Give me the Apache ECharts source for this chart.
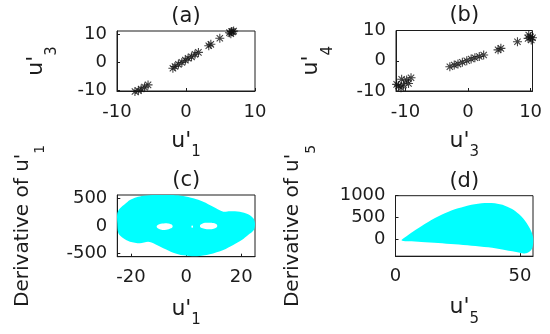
<!DOCTYPE html>
<html>
<head>
<meta charset="utf-8">
<script src="https://cdn.jsdelivr.net/npm/echarts@6/dist/echarts.min.js"></script>
<style>
html,body{margin:0;padding:0;background:#fff;}
#chart{width:550px;height:334px;}
</style>
</head>
<body>
<div id="chart"></div>
<script>
// ---------- Panel (a): u'1 (x) vs u'3 (y) ----------
const aX = [6.9, 6.6, 6.3, 6.8, 6.5, 4.9, 3.3, 3.6, 1.8, 1.3, 0.8, 0.3, -0.1, -0.6, -1.1, -1.6, -1.9, -5.5, -6.0, -6.5, -6.9, -7.4];
const aY = [11.2, 11.0, 10.6, 10.9, 10.2, 8.6, 5.9, 6.4, 3.5, 2.8, 1.9, 1.4, 0.7, -0.1, -0.8, -1.6, -2.2, -8.2, -9.0, -9.7, -10.3, -10.6];
// ---------- Panel (b): u'3 (x) vs u'4 (y) ----------
const bX = [10.0, 10.3, 9.6, 10.1, 9.7, 7.9, 5.25, 4.8, 2.5, 1.8, 1.1, 0.5, -0.2, -0.9, -1.6, -2.2, -2.9, -9.1, -9.8, -10.6, -9.5, -10.3, -11.1, -10.7, -11.4];
const bY = [7.9, 7.6, 7.4, 6.9, 8.5, 6.3, 4.1, 3.6, 1.9, 1.4, 1.0, 0.6, 0.0, -0.5, -1.1, -1.4, -2.0, -5.6, -6.4, -6.1, -7.5, -8.0, -8.3, -8.9, -7.8];
// ---------- Panel (c): u'1 (x) vs derivative of u'1 (y), region outline and holes ----------
const cOuterX = [-25.0, -25.0, -24.0, -22.2, -20.4, -18.0, -15.6, -9.5, -4.7, -1.05, 2.6, 6.2, 9.8, 13.5, 15.9, 19.5, 22.5, 24.4, 25.0, 24.6, 22.5, 20.2, 17.1, 13.5, 8.6, 3.8, -1.05, -4.7, -8.3, -11.9, -13.8, -16.8, -20.4, -22.8, -24.6];
const cOuterY = [46, 228, 318, 397, 469, 518, 547, 562, 560, 542, 500, 438, 348, 257, 266, 257, 210, 137, 46, -75, -166, -257, -348, -438, -516, -552, -535, -487, -407, -317, -288, -317, -288, -226, -135];
const cHoleLX = [-10.7, -10.0, -8.2, -6.0, -4.9, -5.8, -7.8, -9.8];
const cHoleLY = [-15, 25, 44, 36, -5, -50, -74, -55];
const cHoleRX = [5.0, 5.8, 8.0, 10.3, 11.3, 10.5, 8.3, 6.0];
const cHoleRY = [-5, 40, 57, 45, 0, -45, -63, -45];
const cDotX = [1.9, 2.2, 2.5, 2.2];
const cDotY = [-15, 5, -15, -35];
// ---------- Panel (d): u'5 (x) vs derivative of u'5 (y), region outline ----------
const dOuterX = [2.4, 5.1, 9.1, 14.4, 19.8, 25.1, 30.5, 35.8, 39.9, 43.9, 47.9, 51.2, 53.9, 55.2, 55.2, 54.5, 52.5, 49.9, 43.9, 37.2, 30.5, 23.8, 17.1, 10.4, 5.1, 2.7];
const dOuterY = [-25, 90, 245, 437, 592, 708, 792, 831, 824, 769, 653, 477, 245, 51, -141, -257, -333, -319, -257, -194, -157, -125, -95, -72, -56, -42];
// ---------- Tick labels ----------
const aTicksX = [-10, 0, 10], aTicksY = [-10, 0, 10];
const bTicksX = [-10, 0, 10], bTicksY = [-10, 0, 10];
const cTicksX = [-20, 0, 20], cTicksY = [-500, 0, 500];
const dTicksX = [0, 50], dTicksY = [0, 500, 1000];
const titles = ['(a)', '(b)', '(c)', '(d)'];

const FONT = 'DejaVu Sans';
const INK = '#1c1c1c';
const CYAN = '#00ffff';
const ASTER = 'path://M-0.12,-1L0.12,-1L0.12,1L-0.12,1Z M-1,-0.12L1,-0.12L1,0.12L-1,0.12Z M-0.79,-0.62L-0.62,-0.79L0.79,0.62L0.62,0.79Z M-0.79,0.62L0.62,-0.79L0.79,-0.62L-0.62,0.79Z';

const grids = [
  {left: 117, top: 31, width: 138, height: 60},
  {left: 396, top: 30.5, width: 136.5, height: 60.5},
  {left: 117.3, top: 195, width: 137.7, height: 61.7},
  {left: 395.5, top: 195.7, width: 137.5, height: 60.5}
].map(g => Object.assign({show: true, borderColor: INK, borderWidth: 1, backgroundColor: 'transparent'}, g));

function nameStyle(main, sub, pad) {
  return {
    fontSize: main, fontFamily: FONT, color: INK,
    rich: {s: {fontSize: sub, fontFamily: FONT, color: INK, padding: [pad, 0, 0, 0]}}
  };
}
function baseAxis(gi, min, max, ticks, margin) {
  return {
    gridIndex: gi, type: 'value', min: min, max: max,
    axisLine: {show: true, onZero: false, lineStyle: {color: INK, width: 1}},
    axisTick: {show: true, inside: true, length: 3, customValues: ticks, lineStyle: {color: INK}},
    axisLabel: {customValues: ticks, margin: margin, fontSize: 18, fontFamily: FONT, color: INK,
                formatter: v => String(v)},
    splitLine: {show: false},
    nameLocation: 'middle'
  };
}
function xAx(gi, min, max, ticks, margin, name, gap) {
  return Object.assign(baseAxis(gi, min, max, ticks, margin), {
    position: 'bottom', name: name, nameGap: gap, nameTextStyle: nameStyle(22, 15, 22)
  });
}
function yAx(gi, min, max, ticks, name, gap, main, sub, pad) {
  return Object.assign(baseAxis(gi, min, max, ticks, 10), {
    position: 'left', name: name, nameGap: gap, nameTextStyle: nameStyle(main, sub, pad)
  });
}

function scatterSeries(i, xs, ys) {
  return {
    type: 'scatter', xAxisIndex: i, yAxisIndex: i, clip: false,
    symbol: ASTER, symbolSize: 9, silent: true,
    itemStyle: {color: '#111'},
    data: xs.map((x, k) => [x, ys[k]])
  };
}
function polySeries(i, xs, ys, color, z, smooth) {
  return {
    type: 'custom', xAxisIndex: i, yAxisIndex: i, z: z, clip: true, silent: true,
    data: [[xs[0], ys[0]]],
    renderItem: function (params, api) {
      const pts = xs.map((x, k) => api.coord([x, ys[k]]));
      return {type: 'polygon', shape: {points: pts, smooth: smooth}, style: {fill: color}};
    }
  };
}

const centers = grids.map(g => [g.left + g.width / 2, g.top]);

const option = {
  animation: false,
  backgroundColor: '#fff',
  grid: grids,
  xAxis: [
    xAx(0, -10, 10, aTicksX, 12.5, "u'{s|1}", 31.5),
    xAx(1, -11.5, 10.3, bTicksX, 12.5, "u'{s|3}", 31.3),
    xAx(2, -25, 25, cTicksX, 11.5, "u'{s|1}", 34.3),
    xAx(3, 0, 55.2, dTicksX, 11.5, "u'{s|5}", 33)
  ],
  yAxis: [
    yAx(0, -10.4, 11.2, aTicksY, "u'{s|3}", 57.7, 22, 15, 31),
    yAx(1, -10, 10, bTicksY, "u'{s|4}", 60.7, 22, 15, 33),
    yAx(2, -560, 560, cTicksY, "Derivative of u'{s|1}", 70, 20, 14, 35),
    yAx(3, -400, 1000, dTicksY, "Derivative of u'{s|5}", 77.5, 20, 14, 37)
  ],
  series: [
    scatterSeries(0, aX, aY),
    scatterSeries(1, bX, bY),
    polySeries(2, cOuterX, cOuterY, CYAN, 2, 0.3),
    polySeries(2, cHoleLX, cHoleLY, '#ffffff', 3, 0.5),
    polySeries(2, cHoleRX, cHoleRY, '#ffffff', 3, 0.5),
    polySeries(2, cDotX, cDotY, '#ffffff', 3, 0.5),
    polySeries(3, dOuterX, dOuterY, CYAN, 2, 0.3)
  ],
  graphic: titles.map((t, i) => ({
    type: 'text', x: centers[i][0], y: centers[i][1] - 14.5, silent: true,
    style: {text: t, fontSize: 21, fontFamily: FONT, fill: INK,
            align: 'center', verticalAlign: 'middle', textAlign: 'center', textVerticalAlign: 'middle'}
  }))
};

const chart = echarts.init(document.getElementById('chart'), null, {renderer: 'canvas'});
chart.setOption(option);
</script>
</body>
</html>
